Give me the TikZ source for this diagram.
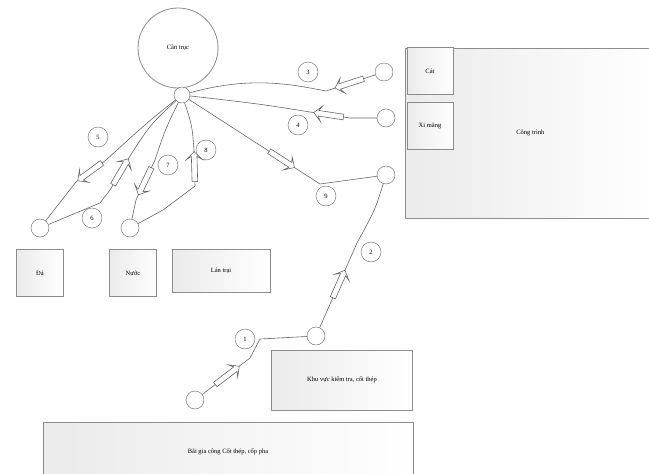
\documentclass[tikz,border=0pt]{standalone}
\usepackage{fontspec}
\setmainfont{Liberation Serif}
\usetikzlibrary{shapes.arrows}

\tikzset{
    place/.style={draw=black!45, line width=0.8pt, rectangle, left color=black!8, right color=white,
        align=center, font=\fontsize{6.5}{7.5}\selectfont},
    spot/.style={draw=black!60, circle, minimum size=18pt, inner sep=0pt, fill=white},
    stepno/.style={draw=black!60, circle, minimum size=20pt, inner sep=0pt, fill=white,
        font=\fontsize{6.5}{7.5}\selectfont},
    haul/.style={draw=black!60, line width=0.6pt},
    hollow/.style={draw=black!60, fill=white, single arrow, minimum height=30pt,
        single arrow head extend=5pt, single arrow head indent=3pt, inner sep=2.5pt,
        sloped, allow upside down},
}

\begin{document}
\begin{tikzpicture}[x=1pt, y=-1pt]
\useasboundingbox (0,0) rectangle (649,474);

% crane and hook
\node (crane) [draw=black!45, line width=0.8pt, circle, minimum size=80pt,
    font=\fontsize{6.5}{7.5}\selectfont
] at (178,48) {Cần trục};
\node (hub) [spot, minimum size=16pt] at (182,95) {};

% places
\node (site) [place,
    minimum width=250pt,
    minimum height=170pt,
    anchor=north west
] at (405,48) {Công trình};
\node (sand) [place, minimum width=46pt, minimum height=47pt] at (430,71) {Cát};
\node (cement) [place, minimum width=46pt, minimum height=47pt] at (430,126) {Xi măng};
\node (stone) [place, minimum width=47pt, minimum height=47pt] at (40,273) {Đá};
\node (water) [place, minimum width=47pt, minimum height=47pt] at (133,273) {Nước};
\node (camp) [place, minimum width=98pt, minimum height=43pt] at (221,271) {Lán trại};
\node (check) [place, minimum width=141pt, minimum height=60pt] at (342,380) {Khu vực kiểm tra, cốt thép};
\node (yard) [place, minimum width=370pt, minimum height=60pt] at (228,452) {Bãi gia công Cốt thép, cốp pha};

% pick-up points
\node (pSand) [spot] at (384,72) {};
\node (pCement) [spot] at (386,118) {};
\node (pLift) [spot] at (386,175) {};
\node (pStone) [spot] at (40,228) {};
\node (pWater) [spot] at (130,228) {};
\node (pCheck) [spot] at (316,336) {};
\node (pYard) [spot] at (195,400) {};

% step numbers
\node (n1) [stepno] at (245,339) {1};
\node (n2) [stepno] at (371,252) {2};
\node (n3) [stepno] at (308,72) {3};
\node (n4) [stepno] at (298,125) {4};
\node (n5) [stepno] at (98,137) {5};
\node (n6) [stepno] at (92,218) {6};
\node (n7) [stepno] at (168,165) {7};
\node (n8) [stepno] at (206,150) {8};
\node (n9) [stepno] at (326,196) {9};

% hauls
\draw [haul] (pSand) -- node[hollow]{} (326,91) .. controls (290,84) and (250,76) .. (hub);
\draw [haul] (pCement) -- (350,118) -- node[hollow]{} (310,112) .. controls (260,104) .. (hub);
\draw [haul] (hub) -- node[hollow, pos=0.7]{} (320,184) -- (pLift);

\draw [haul] (hub) .. controls (150,120) .. (106,160) -- node[hollow]{} (76,182) -- (pStone);
\draw [haul] (pStone) -- (100,203) -- (110,190) -- node[hollow]{} (130,156) .. controls (150,125) .. (hub);

\draw [haul] (hub) .. controls (165,130) .. (155,160) -- node[hollow]{} (136,200) -- (pWater);
\draw [haul] (pWater) -- (163,210) -- (195,186) -- node[hollow]{} (194,150) .. controls (192,125) .. (hub);

\draw [haul] (pYard) -- node[hollow]{} (250,358) -- (260,339) -- (pCheck);
\draw [haul] (pCheck) -- node[hollow]{} (357,243) .. controls (375,210) .. (pLift);

\end{tikzpicture}
\end{document}
